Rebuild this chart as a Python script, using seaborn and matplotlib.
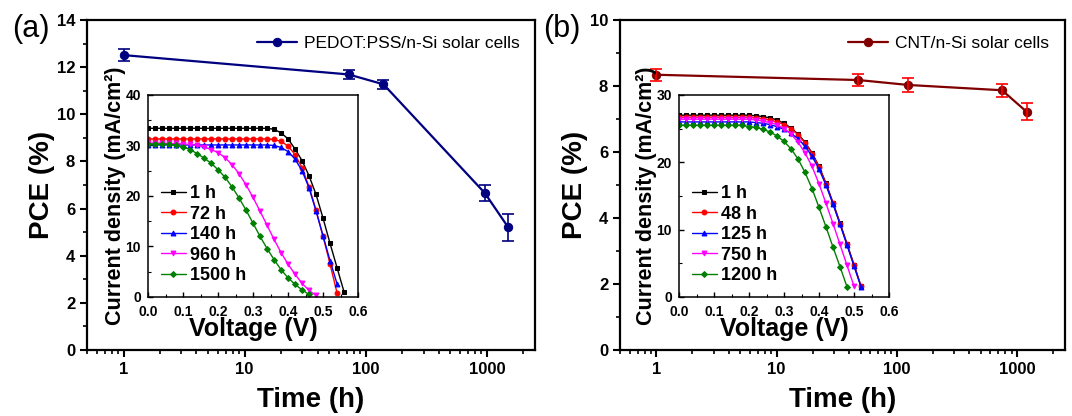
import numpy as np
import pandas as pd
import seaborn as sns
import matplotlib.pyplot as plt
from matplotlib.ticker import MultipleLocator, LogLocator, NullFormatter

sns.set_theme(style='ticks', rc={'text.color': 'black', 'axes.labelcolor': 'black',
                                 'xtick.color': 'black', 'ytick.color': 'black',
                                 'axes.edgecolor': 'black'})
plt.rcParams['font.family'] = ['Liberation Sans', 'DejaVu Sans']
plt.rcParams['font.weight'] = 'bold'
plt.rcParams['axes.labelweight'] = 'bold'

# ---- main curves: PCE vs time ----
time_a = [1, 72, 140, 960, 1500]
pce_a = [12.51, 11.69, 11.27, 6.66, 5.20]
err_a = [0.27, 0.18, 0.18, 0.32, 0.57]

time_b = [1, 48, 125, 750, 1200]
pce_b = [8.34, 8.18, 8.03, 7.87, 7.22]
err_b = [0.18, 0.18, 0.22, 0.20, 0.25]

# ---- inset J-V curves ----
volt = [0.00, 0.02, 0.04, 0.06, 0.08, 0.10, 0.12, 0.14, 0.16, 0.18, 0.20,
        0.22, 0.24, 0.26, 0.28, 0.30, 0.32, 0.34, 0.36, 0.38, 0.40, 0.42,
        0.44, 0.46, 0.48, 0.50, 0.52, 0.54, 0.56]

labels_a = ['1 h', '72 h', '140 h', '960 h', '1500 h']
jv_a = [
    [33.4] * 17 + [33.4, 33.2, 32.5, 31.3, 29.3, 27.0, 24.0, 20.3, 15.6, 10.6, 5.8, 1.0],
    [31.3] * 18 + [31.2, 30.8, 29.9, 28.2, 25.6, 21.8, 17.2, 12.0, 6.5, 0.8],
    [30.1] * 18 + [30.0, 29.6, 28.8, 27.3, 25.0, 21.6, 17.0, 12.1, 7.2, 2.6],
    [30.5, 30.5, 30.5, 30.4, 30.4, 30.3, 30.2, 30.0, 29.7, 29.2, 28.6, 27.6, 26.2,
     24.4, 22.2, 19.7, 17.0, 14.2, 11.4, 8.8, 6.5, 4.5, 2.7, 1.3, 0.3],
    [30.3, 30.3, 30.3, 30.2, 30.0, 29.7, 29.2, 28.4, 27.5, 26.5, 25.2, 23.7, 21.8,
     19.6, 17.2, 14.6, 12.0, 9.6, 7.4, 5.4, 3.8, 2.5, 1.4, 0.5],
]

labels_b = ['1 h', '48 h', '125 h', '750 h', '1200 h']
jv_b = [
    [27.0] * 11 + [26.9, 26.8, 26.6, 26.3, 25.8, 25.1, 24.2, 23.0, 21.4, 19.4, 16.9, 14.0, 11.0, 7.9, 4.8, 1.6],
    [26.7] * 11 + [26.6, 26.5, 26.3, 26.0, 25.6, 25.0, 24.1, 22.9, 21.3, 19.3, 16.8, 13.9, 10.9, 7.8, 4.7, 1.6],
    [26.0] * 11 + [25.9, 25.8, 25.6, 25.3, 24.9, 24.3, 23.5, 22.4, 20.9, 19.0, 16.6, 13.8, 10.8, 7.7, 4.6, 1.5],
    [26.4] * 11 + [26.3, 26.1, 25.9, 25.6, 25.0, 24.2, 23.0, 21.4, 19.4, 16.8, 13.9, 10.9, 7.8, 4.7, 1.6],
    [25.5] * 10 + [25.3, 25.2, 24.9, 24.5, 23.9, 23.1, 22.0, 20.5, 18.5, 16.1, 13.3, 10.4, 7.4, 4.5, 1.5],
]

jv_colors = ['black', '#FF0000', '#0000FF', '#FF00FF', '#008000']
jv_markers = ['s', 'o', '^', 'v', 'D']


def main_panel(ax, t, pce, err, color, ecolor, label, ymax):
    sns.lineplot(x=t, y=pce, ax=ax, color=color, linewidth=1.6, marker='o',
                 markersize=6, markeredgecolor=color, markerfacecolor=color,
                 label=label, estimator=None, sort=False)
    ax.errorbar(t, pce, yerr=err, fmt='none', ecolor=ecolor, elinewidth=1.2,
                capsize=4, capthick=1.2)
    ax.set_xscale('log')
    ax.set_xlim(0.5, 2500)
    ax.set_ylim(0, ymax)
    ax.set_xticks([1, 10, 100, 1000])
    ax.set_xticklabels(['1', '10', '100', '1000'])
    ax.xaxis.set_minor_locator(LogLocator(base=10, subs=np.arange(2, 10)))
    ax.xaxis.set_minor_formatter(NullFormatter())
    ax.yaxis.set_major_locator(MultipleLocator(2))
    ax.yaxis.set_minor_locator(MultipleLocator(1))
    ax.tick_params(which='major', direction='out', length=5, width=1.5, labelsize=12)
    ax.tick_params(which='minor', direction='out', length=3, width=1.2)
    for s in ax.spines.values():
        s.set_linewidth(1.6)
    ax.set_xlabel('Time (h)', fontsize=20, labelpad=7)
    ax.set_ylabel('PCE (%)', fontsize=20, labelpad=1)
    ax.legend(loc='upper right', frameon=False, handlelength=2.3, handletextpad=0.4,
              borderaxespad=0.5, prop={'size': 12.5, 'weight': 'normal'})


def inset_panel(ax, curves, labels, ymax, ystep):
    for j, lab, c, m in zip(curves, labels, jv_colors, jv_markers):
        sns.lineplot(x=volt[:len(j)], y=j, ax=ax, color=c, linewidth=1.0,
                     marker=m, markersize=3.5 if m != 'D' else 3,
                     markeredgecolor=c, markerfacecolor=c, label=lab,
                     estimator=None, sort=False)
    ax.set_xlim(0, 0.6)
    ax.set_ylim(0, ymax)
    ax.xaxis.set_major_locator(MultipleLocator(0.1))
    ax.xaxis.set_minor_locator(MultipleLocator(0.05))
    ax.yaxis.set_major_locator(MultipleLocator(ystep))
    ax.yaxis.set_minor_locator(MultipleLocator(ystep / 2))
    ax.tick_params(which='major', direction='in', length=3.5, width=1.0, labelsize=10)
    ax.tick_params(axis='x', which='major', pad=5.5)
    ax.tick_params(axis='y', which='major', pad=5)
    ax.tick_params(which='minor', direction='in', length=2, width=0.8)
    for s in ax.spines.values():
        s.set_linewidth(1.1)
    ax.set_xlabel('Voltage (V)', fontsize=18, labelpad=-1)
    ax.set_ylabel('Current density (mA/cm²)', fontsize=15.5, labelpad=0)
    ax.legend(loc='lower left', bbox_to_anchor=(0.0, 0.0), frameon=False,
              handlelength=1.4, handletextpad=0.25, labelspacing=0.2,
              borderaxespad=0.3, prop={'size': 13, 'weight': 'bold'})


fig = plt.figure(figsize=(10.72, 4.16), dpi=100)

ax_a = fig.add_axes([0.0812, 0.1587, 0.418, 0.7933])
main_panel(ax_a, time_a, pce_a, err_a, '#000080', '#000080',
           'PEDOT:PSS/n-Si solar cells', 14)
ax_b = fig.add_axes([0.5784, 0.1587, 0.415, 0.7933])
main_panel(ax_b, time_b, pce_b, err_b, '#800000', '#FF0000',
           'CNT/n-Si solar cells', 10)

in_a = fig.add_axes([0.1381, 0.2861, 0.1959, 0.4856])
inset_panel(in_a, jv_a, labels_a, 40, 10)
in_b = fig.add_axes([0.6334, 0.2861, 0.1959, 0.4856])
inset_panel(in_b, jv_b, labels_b, 30, 10)

fig.text(0.011, 0.93, '(a)', fontsize=22, fontweight='normal', va='center')
fig.text(0.507, 0.93, '(b)', fontsize=22, fontweight='normal', va='center')

fig.savefig('out.png', dpi=100)
